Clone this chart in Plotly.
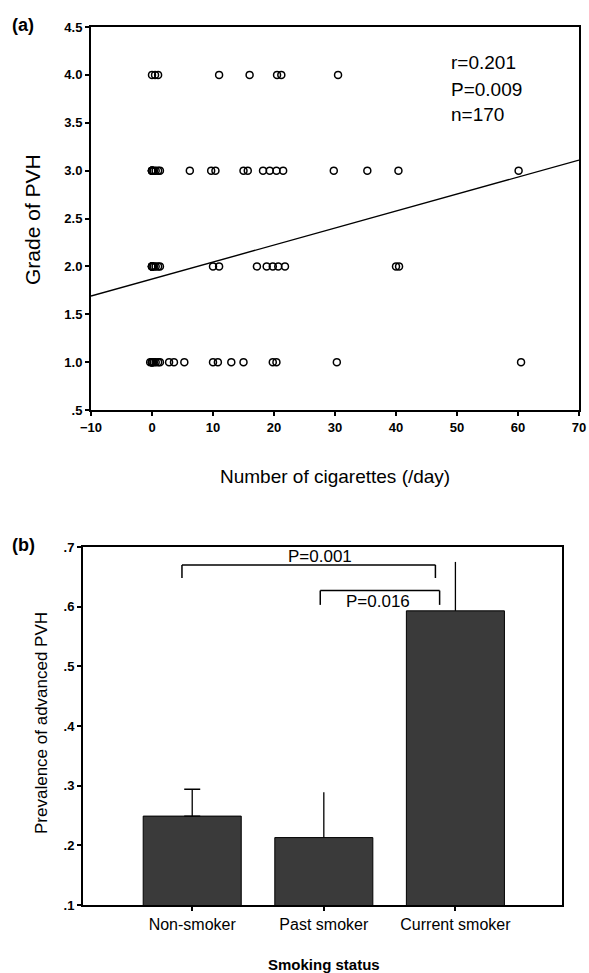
import plotly.graph_objects as go

# ---------------- data: panel (a) ----------------
x_ticks_a = [-10, 0, 10, 20, 30, 40, 50, 60, 70]
y_ticks_a = [0.5, 1.0, 1.5, 2.0, 2.5, 3.0, 3.5, 4.0, 4.5]
y_ticktext_a = [".5", "1.0", "1.5", "2.0", "2.5", "3.0", "3.5", "4.0", "4.5"]

grade4_cigs = [0, 0.5, 1, 11, 16, 20.5, 21.2, 30.5]
grade3_cigs = [0, 0, 0, 0, 0, 0.3, 0.6, 1.0, 1.3, 6.2, 9.7, 10.4, 15, 15.7,
               18.2, 19.3, 20.4, 21.5, 29.8, 35.3, 40.4, 60.1]
grade2_cigs = [0, 0, 0, 0, 0, 0.3, 0.6, 1.0, 1.3, 10, 11, 17.2, 18.8, 19.8,
               20.7, 21.8, 40, 40.5]
grade1_cigs = [-0.3, 0, 0, 0, 0, 0.3, 0.6, 1.0, 1.3, 2.8, 3.6, 5.3, 10, 10.8,
               13, 15, 19.8, 20.4, 30.3, 60.5]

fit_intercept = 1.8675
fit_slope = 0.01775
fit_x = [-10, 70]
stats_text = ["r=0.201", "P=0.009", "n=170"]

# ---------------- data: panel (b) ----------------
categories = ["Non-smoker", "Past smoker", "Current smoker"]
prevalence = [0.249, 0.213, 0.593]
prevalence_err = [0.045, 0.076, 0.082]
y_ticks_b = [0.1, 0.2, 0.3, 0.4, 0.5, 0.6, 0.7]
y_ticktext_b = [".1", ".2", ".3", ".4", ".5", ".6", ".7"]

W, H = 589, 973
FONT = "Liberation Sans, Arial, sans-serif"

def px_x(p):
    return p / W

def px_y(p):
    return 1 - p / H

# pixel frames
A_L, A_R, A_T, A_B = 91, 579, 27, 410
B_L, B_R, B_T, B_B = 83, 562, 547, 905

fig = go.Figure()

# ---- panel (a) scatter ----
rows = [(grade4_cigs, 4.0), (grade3_cigs, 3.0), (grade2_cigs, 2.0), (grade1_cigs, 1.0)]
for xs, g in rows:
    fig.add_trace(go.Scatter(
        x=xs, y=[g] * len(xs), mode="markers", xaxis="x", yaxis="y",
        marker=dict(symbol="circle-open", size=7, color="black",
                    line=dict(width=1.5, color="black")),
        showlegend=False, hoverinfo="skip"))

fit_y = [fit_intercept + fit_slope * v for v in fit_x]
fig.add_trace(go.Scatter(x=fit_x, y=fit_y, mode="lines", xaxis="x", yaxis="y",
                         line=dict(color="black", width=1.4),
                         showlegend=False, hoverinfo="skip"))

# ---- panel (b) bars ----
xpos = list(range(len(categories)))
fig.add_trace(go.Bar(
    x=xpos, y=prevalence, xaxis="x2", yaxis="y2", width=0.745,
    marker=dict(color="#3a3a3a", line=dict(color="black", width=1)),
    showlegend=False, hoverinfo="skip"))
# error bars (only upper half visible); cap only visible on first bar
fig.add_trace(go.Scatter(
    x=xpos[:1], y=prevalence[:1], mode="markers", xaxis="x2", yaxis="y2",
    marker=dict(size=1, opacity=0),
    error_y=dict(type="data", symmetric=False, array=prevalence_err[:1],
                 arrayminus=[0], width=8, thickness=1.3, color="black"),
    showlegend=False, hoverinfo="skip"))
fig.add_trace(go.Scatter(
    x=xpos[1:], y=prevalence[1:], mode="markers", xaxis="x2", yaxis="y2",
    marker=dict(size=1, opacity=0),
    error_y=dict(type="data", symmetric=False, array=prevalence_err[1:],
                 arrayminus=[0, 0], width=0, thickness=1.3, color="black"),
    showlegend=False, hoverinfo="skip"))

tick_font = dict(family=FONT, size=13, color="black", weight="bold")
axis_common = dict(showgrid=False, zeroline=False, showline=True, mirror=True,
                   linecolor="black", linewidth=2, ticks="outside", ticklen=4,
                   tickwidth=2, tickcolor="black", automargin=False)

fig.update_layout(
    width=W, height=H, margin=dict(l=0, r=0, t=0, b=0, pad=0, autoexpand=False),
    paper_bgcolor="white", plot_bgcolor="white",
    xaxis=dict(domain=[px_x(A_L), px_x(A_R)], range=[-10, 70],
               tickvals=x_ticks_a, ticktext=["\u221210"] + [str(v) for v in x_ticks_a[1:]],
               anchor="y", tickfont=tick_font, **axis_common),
    yaxis=dict(domain=[px_y(A_B), px_y(A_T)], range=[0.5, 4.5],
               tickvals=y_ticks_a, ticktext=y_ticktext_a, anchor="x",
               tickfont=tick_font, **axis_common),
    xaxis2=dict(domain=[px_x(B_L), px_x(B_R)], range=[-0.83, 2.81],
                tickvals=xpos, ticktext=categories, anchor="y2",
                tickfont=dict(family=FONT, size=16, color="black"), **axis_common),
    yaxis2=dict(domain=[px_y(B_B), px_y(B_T)], range=[0.1, 0.7],
                tickvals=y_ticks_b, ticktext=y_ticktext_b, anchor="x2",
                tickfont=tick_font, **axis_common),
)

def paper_text(text, x, y, size, angle=0):
    return dict(text=text, x=px_x(x), y=px_y(y), xref="paper", yref="paper",
                xanchor="center", yanchor="middle", showarrow=False, textangle=angle,
                font=dict(family=FONT, size=size, color="black"))

ann = []
ann.append(paper_text("<b>(a)</b>", 23, 25, 18))
ann.append(paper_text("<b>(b)</b>", 23, 545, 18))
ann.append(paper_text("Grade of PVH", 32, 220, 21, -90))
ann.append(paper_text("Number of cigarettes (/day)", (A_L + A_R) / 2, 476, 19))
ann.append(paper_text("Prevalence of advanced PVH", 41, 723, 17, -90))
ann.append(paper_text("<b>Smoking status</b>", 324, 964, 15))
# stats text
stats_y = [4.124, 3.842, 3.581]
for t, yv in zip(stats_text, stats_y):
    ann.append(dict(text=t, x=48.7, y=yv, xref="x", yref="y",
                    xanchor="left", yanchor="middle", showarrow=False,
                    font=dict(family=FONT, size=19, color="black")))
# significance labels
ann.append(dict(text="P=0.001", x=0.973, y=0.684, xref="x2", yref="y2", showarrow=False,
                xanchor="center", yanchor="middle",
                font=dict(family=FONT, size=17, color="black")))
ann.append(dict(text="P=0.016", x=1.414, y=0.609, xref="x2", yref="y2", showarrow=False,
                xanchor="center", yanchor="middle",
                font=dict(family=FONT, size=17, color="black")))
fig.update_layout(annotations=ann)

shapes = []
def bracket(x0, x1, ytop, ybot):
    ln = dict(color="black", width=1.5)
    return [
        dict(type="line", xref="x2", yref="y2", x0=x0, x1=x1, y0=ytop, y1=ytop, line=ln),
        dict(type="line", xref="x2", yref="y2", x0=x0, x1=x0, y0=ytop, y1=ybot, line=ln),
        dict(type="line", xref="x2", yref="y2", x0=x1, x1=x1, y0=ytop, y1=ybot, line=ln),
    ]
shapes += bracket(-0.078, 1.848, 0.670, 0.648)
shapes += bracket(0.973, 1.880, 0.627, 0.603)
fig.update_layout(shapes=shapes)

fig.write_html(
    "out.html",
    config={"displayModeBar": False, "staticPlot": True},
    post_script="document.body.style.margin='0';document.body.style.overflow='hidden';"
                "document.documentElement.style.overflow='hidden';",
)
